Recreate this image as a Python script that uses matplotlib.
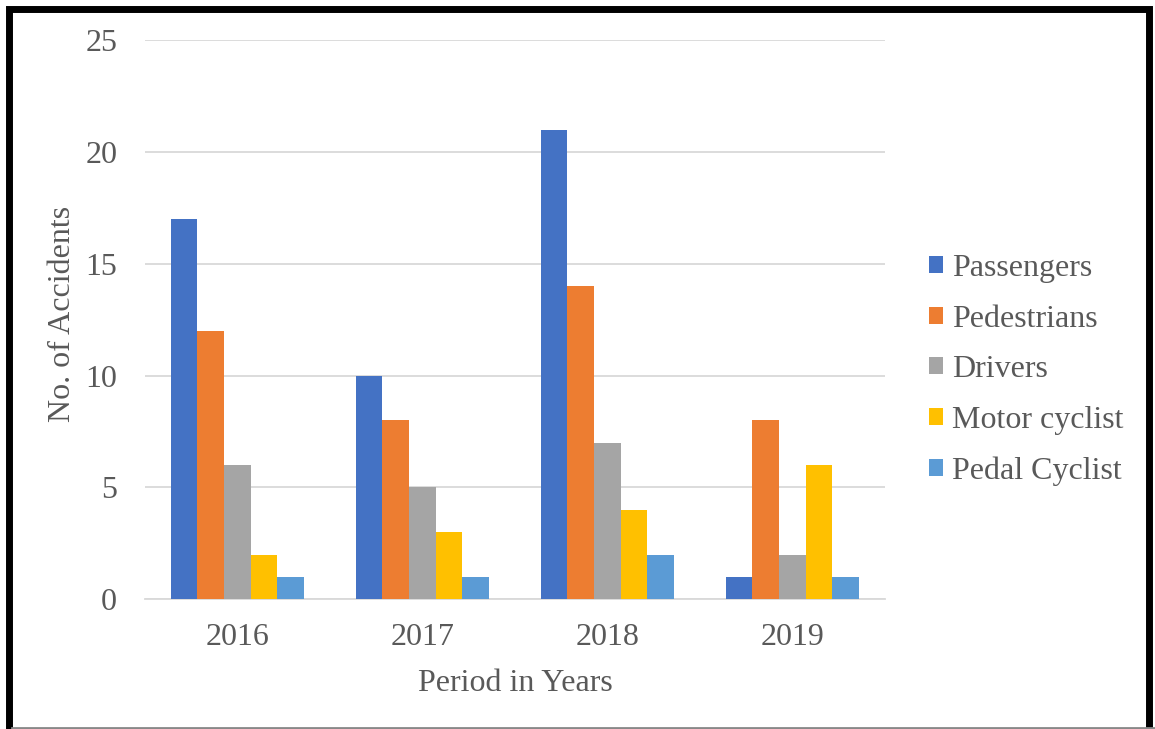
import matplotlib.pyplot as plt
import numpy as np
from matplotlib.patches import Rectangle

years = ['2016', '2017', '2018', '2019']
series = ['Passengers', 'Pedestrians', 'Drivers', 'Motor cyclist', 'Pedal Cyclist']
passengers = [17, 10, 21, 1]
pedestrians = [12, 8, 14, 8]
drivers = [6, 5, 7, 2]
motor_cyclist = [2, 3, 4, 6]
pedal_cyclist = [1, 1, 2, 1]
colors = ['#4472C4', '#ED7D31', '#A5A5A5', '#FFC000', '#5B9BD5']

plt.rcParams['font.family'] = ['Liberation Serif', 'DejaVu Serif']
text_color = '#595959'
fs = 23

fig = plt.figure(figsize=(11.55, 7.29), dpi=100)
ax = fig.add_axes([0.1255, 0.178, 0.6407, 0.767])

values = [passengers, pedestrians, drivers, motor_cyclist, pedal_cyclist]
x = np.arange(len(years))
width = 0.144
for i, (name, vals) in enumerate(zip(series, values)):
    ax.bar(x + (i - 2) * width, vals, width, color=colors[i], label=name, zorder=3)

ax.set_xlim(-0.5, 3.5)
ax.set_ylim(0, 25)
ax.set_yticks(range(0, 26, 5))
ax.set_xticks(x)
ax.set_xticklabels(years)
ax.tick_params(length=0, labelsize=fs, colors=text_color, pad=17)
ax.tick_params(axis='y', pad=20)
ax.grid(axis='y', color='#D9D9D9', linewidth=1.3, zorder=0)
for s in ['top', 'right', 'left']:
    ax.spines[s].set_visible(False)
ax.spines['bottom'].set_color('#D9D9D9')
ax.spines['bottom'].set_linewidth(1.3)

ax.set_xlabel('Period in Years', fontsize=fs, color=text_color, labelpad=12)
ax.set_ylabel('No. of Accidents', fontsize=fs, color=text_color, labelpad=6)
ax.yaxis.label.set_y(0.51)

ax.legend(loc='center left', bbox_to_anchor=(1.02, 0.41), frameon=False,
          fontsize=fs, labelcolor=text_color, handlelength=0.45, handleheight=0.45,
          handletextpad=0.3, labelspacing=0.68)

# outer frame
fig.patches.append(Rectangle((9 / 1155, -0.05), 1140 / 1155, 1 - 9 / 729 + 0.05,
                             transform=fig.transFigure, fill=False,
                             edgecolor='black', linewidth=5))
fig.add_artist(plt.Line2D([12 / 1155, 1], [1.5 / 729, 1.5 / 729],
                          transform=fig.transFigure, color='#888888', linewidth=2))

fig.savefig('out.png', dpi=100)
